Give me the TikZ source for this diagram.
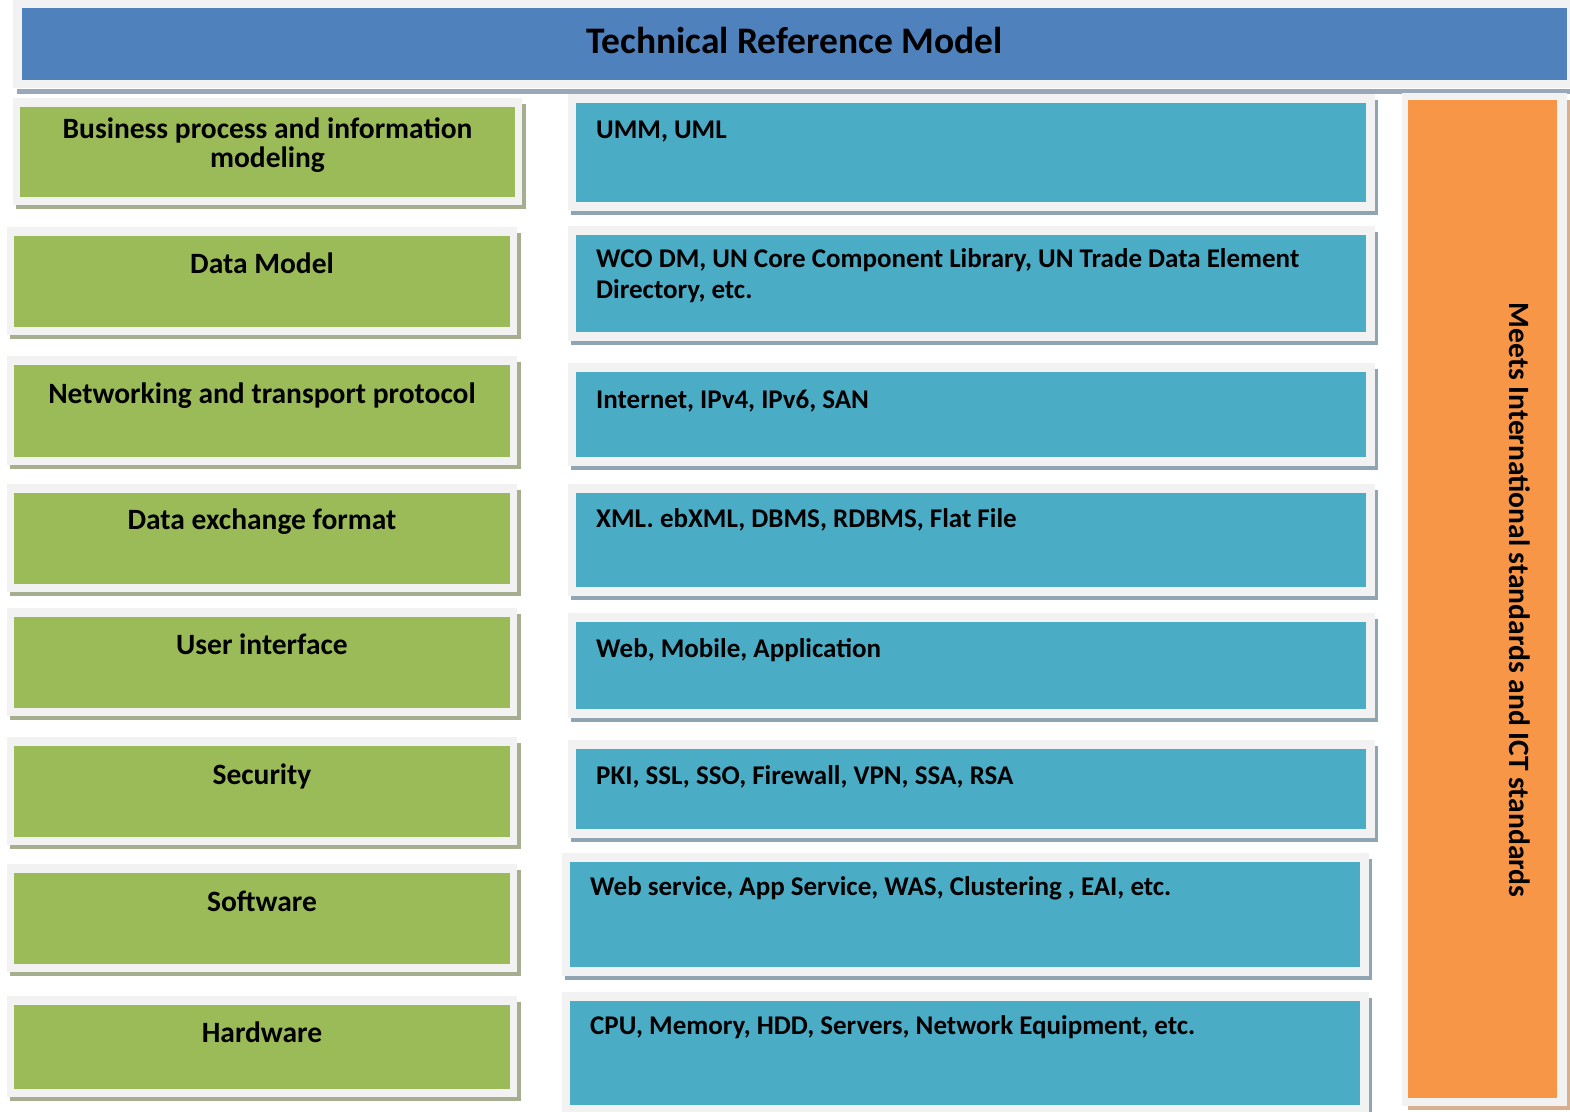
\documentclass[tikz,border=0pt]{standalone}
\usepackage{fontspec}
\setmainfont{Carlito}
\definecolor{titleblue}{HTML}{4F81BD}
\definecolor{layergreen}{HTML}{9BBB59}
\definecolor{stdblue}{HTML}{4BACC6}
\definecolor{meetorange}{HTML}{F79646}
\definecolor{framegray}{HTML}{F2F2F2}
\definecolor{greenshade}{HTML}{A6AE90}
\definecolor{blueshade}{HTML}{8FA6B2}
\definecolor{orangeshade}{HTML}{D8B08E}
\definecolor{titleshade}{HTML}{98A8B8}
\begin{document}
\begin{tikzpicture}[x=1pt,y=-1pt,
    cell/.style={anchor=north west,inner sep=0pt,outer sep=0pt},
    layer/.style={cell,fill=layergreen},
    standard/.style={cell,fill=stdblue},
    txt/.style={inner sep=0pt,font=\bfseries\fontsize{28}{30}\selectfont},
    layertxt/.style={txt,font=\bfseries\fontsize{29.5}{29}\selectfont,anchor=base,align=center},
    stdtxt/.style={txt,font=\bfseries\fontsize{27}{31}\selectfont,anchor=base west,align=left}]
  \useasboundingbox[fill=white] (0,0) rectangle (1570,1111);
  % title bar
  \fill[titleshade] (17,89) rectangle (1570,94);
  \fill[framegray] (13,0) rectangle (1570,88);
  \node[cell,fill=titleblue,minimum width=1545pt,minimum height=72pt] (title) at (22,8) {};
  \node[txt,font=\bfseries\fontsize{37.5}{40}\selectfont,anchor=base] (titletxt) at ([yshift=-45pt]title.north) {Technical Reference Model};
  % left column: layers (last baseline given)
  \foreach \n/\xa/\ya/\xb/\yb/\bl/\t in {
      1/20/107/515/197/167/{Business process and information\\modeling},
      2/14/236/510/327/273/{Data Model},
      3/14/365/510/457/403/{Networking and transport protocol},
      4/14/493/510/584/529/{Data exchange format},
      5/14/617/510/708/654/{User interface},
      6/14/746/510/837/784/{Security},
      7/14/873/510/964/911/{Software},
      8/14/1005/510/1089/1042/{Hardware}} {
    \fill[greenshade] (\xa-4,\ya-3) rectangle (\xb+11,\yb+12);
    \fill[framegray] (\xa-7,\ya-9) rectangle (\xb+7,\yb+8);
    \node[layer,minimum width={\xb-\xa},minimum height={\yb-\ya}] (layer\n) at (\xa,\ya) {};
    \node[layertxt] (layertxt\n) at (layer\n.north |- 0,\bl) {\t};
  }
  % middle column: standards
  \foreach \n/\xa/\ya/\xb/\yb/\bl/\t in {
      1/576/103/1366/202/138/{UMM, UML},
      2/576/235/1366/332/298/{WCO DM, UN Core Component Library, UN Trade Data Element\\Directory, etc.},
      3/576/372/1366/457/408/{Internet, IPv4, IPv6, SAN},
      4/576/493/1366/587/527/{XML. ebXML, DBMS, RDBMS, Flat File},
      5/576/622/1366/709/657/{Web, Mobile, Application},
      6/576/749/1366/829/784/{PKI, SSL, SSO, Firewall, VPN, SSA, RSA},
      7/570/862/1360/967/895/{Web service, App Service, WAS, Clustering , EAI, etc.},
      8/570/1001/1360/1105/1034/{CPU, Memory, HDD, Servers, Network Equipment, etc.}} {
    \fill[blueshade] (\xa-5,\ya-3) rectangle (\xb+12,\yb+13);
    \fill[framegray] (\xa-8,\ya-9) rectangle (\xb+9,\yb+9);
    \node[standard,minimum width={\xb-\xa},minimum height={\yb-\ya}] (std\n) at (\xa,\ya) {};
    \node[stdtxt] (stdtxt\n) at (\xa+20,\bl) {\t};
  }
  % right column
  \fill[orangeshade] (1408,100) rectangle (1570,1110);
  \fill[framegray] (1402,93) rectangle (1567,1106);
  \node[cell,fill=meetorange,minimum width=149pt,minimum height=998pt] (meets) at (1408,100) {};
  \node[txt,font=\bfseries\fontsize{29.5}{30}\selectfont,rotate=-90,anchor=base] (meetstxt) at (1509,600) {Meets International standards and ICT standards};
\end{tikzpicture}
\end{document}
